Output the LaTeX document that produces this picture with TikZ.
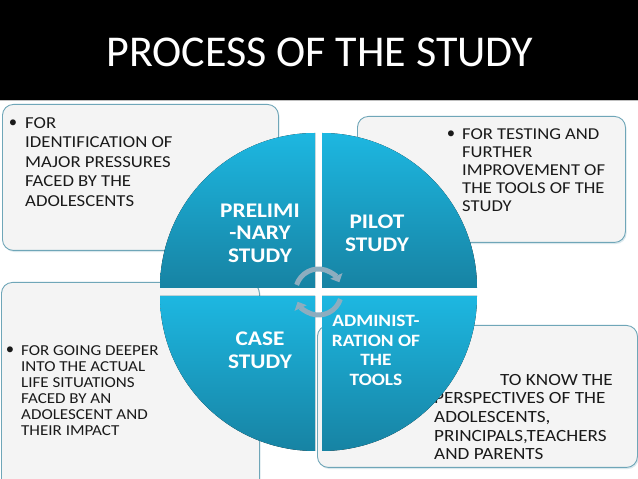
\documentclass[tikz,border=0pt]{standalone}
\usepackage{fontspec}
\setmainfont{Carlito}
\newfontfamily\wideface[FakeStretch=1.12]{Carlito}
\usetikzlibrary{arrows.meta,shadows,positioning}
\definecolor{psTeal}{HTML}{1783A3}
\definecolor{psCyan}{HTML}{1DB7E1}
\definecolor{psBoxFill}{HTML}{F4F4F4}
\definecolor{psBoxLine}{HTML}{6FA6B8}
\definecolor{psArrow}{HTML}{8DADBF}
\definecolor{psInk}{HTML}{1A1A1A}
\tikzset{
  infobox/.style={
    draw=psBoxLine, line width=0.9pt, fill=psBoxFill, rounded corners=11pt,
    anchor=north west, inner sep=0pt,
    drop shadow={opacity=0.25, shadow xshift=1.2pt, shadow yshift=-1.6pt, fill=psBoxLine}
  },
  quadrant/.style={top color=psCyan, bottom color=psTeal, draw=none},
  quadlabel/.style={text=white, align=center, inner sep=0pt,
    font=\wideface\bfseries\fontsize{20.8}{23}\selectfont},
  boxtext/.style={text=psInk, align=left, inner sep=0pt, anchor=north west,
    font=\wideface\fontsize{16.7}{19.6}\selectfont},
  dot/.style={text=psInk, inner sep=0pt, anchor=base,
    font=\fontsize{16.7}{19.6}\selectfont},
  turn/.style={draw=psArrow, line width=5pt,
    -{Triangle[width=13pt,length=7pt]}},
  heading/.style={text=white, font=\fontsize{44}{48}\selectfont}
}

\begin{document}
\begin{tikzpicture}[x=1pt,y=1pt]
  \useasboundingbox (0,0) rectangle (638,479);
  \fill[white] (0,0) rectangle (638,479);
  \fill[black] (0,379) rectangle (638,479);
  \draw[black!25, line width=1pt] (0,378) -- (638,378);
  \node[heading] (title) at (320,427) {PROCESS OF THE STUDY};

  % text boxes behind the circle
  \node[infobox, minimum width=276pt, minimum height=146pt] (prelimBox) at (2,375) {};
  \node[infobox, minimum width=268pt, minimum height=126pt] (pilotBox) at (357,363) {};
  \node[infobox, minimum width=258pt, minimum height=215pt] (caseBox) at (1,197) {};
  \node[infobox, minimum width=320pt, minimum height=142pt] (adminBox) at (317,154) {};
  \node[boxtext, font=\wideface\fontsize{17.1}{18.6}\selectfont] (adminText) at (434,105)
    {\hspace*{66pt}TO KNOW THE\\PERSPECTIVES OF THE\\ADOLESCENTS,\\PRINCIPALS,TEACHERS\\AND PARENTS};

  % four quadrants
  \fill[quadrant] (315,191) -- ++(-155,0) arc[start angle=180, end angle=90, radius=155] -- cycle;
  \fill[quadrant] (322,191) -- ++(0,155) arc[start angle=90, end angle=0, radius=155] -- cycle;
  \fill[quadrant] (315,183) -- ++(0,-155) arc[start angle=270, end angle=180, radius=155] -- cycle;
  \fill[quadrant] (322,183) -- ++(155,0) arc[start angle=0, end angle=-90, radius=155] -- cycle;

  \node[quadlabel, font=\wideface\bfseries\fontsize{20.8}{22.6}\selectfont] (prelim) at (260,246)
    {PRELIMI\\-NARY\\STUDY};
  \node[quadlabel] (pilot) at (377,245.7) {PILOT\\STUDY};
  \node[quadlabel] (case) at (260,128.7) {CASE\\STUDY};
  \node[quadlabel, font=\wideface\bfseries\fontsize{17.3}{19.4}\selectfont] (admin) at (376,128.6)
    {ADMINIST-\\RATION OF\\THE\\TOOLS};

  % circular arrows
  \coordinate (hub) at (318.5,187);
  \draw[turn] (hub) ++(162:23) arc[start angle=162, end angle=25, radius=23];
  \draw[turn] (hub) ++(-18:23) arc[start angle=-18, end angle=-155, radius=23];

  % box texts
  \node[dot] (prelimDot) at (13,351) {\textbullet};
  \node[boxtext] (prelimText) at (25,362)
    {FOR\\IDENTIFICATION OF\\MAJOR PRESSURES\\FACED BY THE\\ADOLESCENTS};
  \node[dot] (pilotDot) at (451,340) {\textbullet};
  \node[boxtext, font=\wideface\fontsize{16.6}{18}\selectfont] (pilotText) at (462,350.7)
    {FOR TESTING AND\\FURTHER\\IMPROVEMENT OF\\THE TOOLS OF THE\\STUDY};
  \node[dot] (caseDot) at (10,124) {\textbullet};
  \node[boxtext, font=\wideface\fontsize{15.2}{16.1}\selectfont] (caseText) at (21,133.8)
    {FOR GOING DEEPER\\INTO THE ACTUAL\\LIFE SITUATIONS\\FACED BY AN\\ADOLESCENT AND\\THEIR IMPACT};
\end{tikzpicture}
\end{document}
